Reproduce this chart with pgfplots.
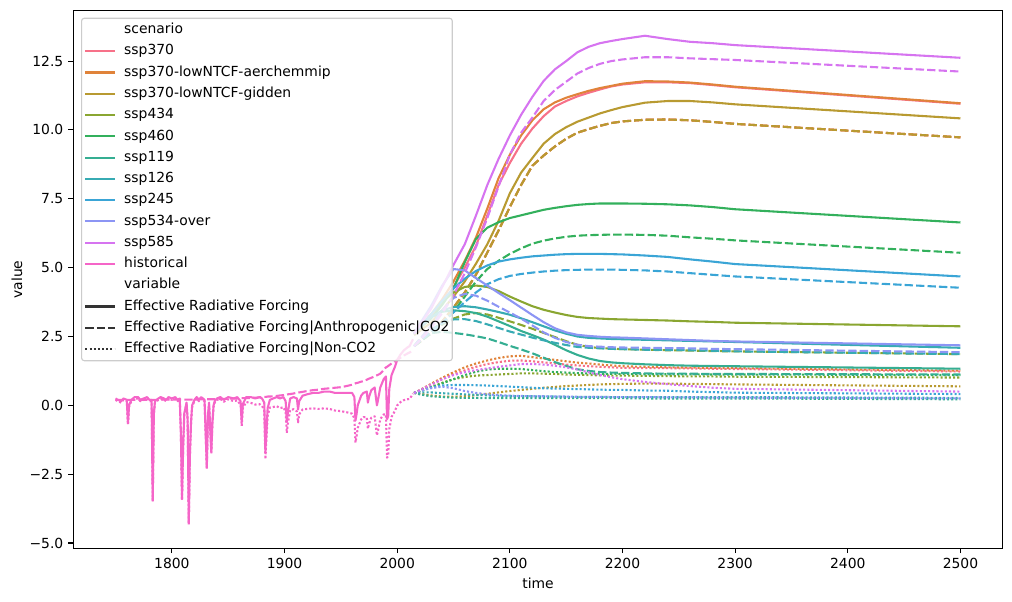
\documentclass[border=0pt]{standalone}
\usepackage{fontspec}
\setmainfont{DejaVu Sans}
\usepackage{pgfplots}
\usepackage{pgfplotstable}
\pgfplotsset{compat=1.18}

\definecolor{cA}{HTML}{F77189}
\definecolor{cB}{HTML}{E0833A}
\definecolor{cC}{HTML}{B89A31}
\definecolor{cD}{HTML}{8AA631}
\definecolor{cE}{HTML}{33B05C}
\definecolor{cF}{HTML}{35AE92}
\definecolor{cG}{HTML}{37ABB3}
\definecolor{cH}{HTML}{3AA5D6}
\definecolor{cI}{HTML}{8C95F4}
\definecolor{cJ}{HTML}{D674F0}
\definecolor{cK}{HTML}{F565C8}
\definecolor{legdark}{HTML}{333333}
\definecolor{leggray}{HTML}{CCCCCC}

\pgfplotsset{
  sol/.style={line width=1.5bp, solid, line join=round},
  das/.style={line width=1.5bp, dash pattern=on 6bp off 2.25bp, line join=round},
  dot/.style={line width=1.5bp, dash pattern=on 1.5bp off 1.5bp, line join=round},
  myleg/.style={legend image code/.code={\draw[##1] (0bp,0bp) -- (21bp,0bp);}},
}

% historical
\pgfplotstableread{
year erf co2 non
1750 0.25 0.20 0.20
1752 0.20 0.20 0.15
1755 0.15 0.20 0.10
1757 0.25 0.20 0.20
1760 0.20 0.20 0.15
1761 -0.65 0.20 -0.70
1762 0.00 0.20 -0.05
1764 0.20 0.20 0.15
1767 0.30 0.20 0.25
1770 0.30 0.20 0.25
1772 0.20 0.20 0.15
1775 0.25 0.20 0.20
1778 0.30 0.20 0.25
1780 0.20 0.20 0.15
1782 0.20 0.20 0.15
1783 -3.45 0.20 -3.50
1784 -0.30 0.20 -0.35
1785 0.15 0.20 0.10
1788 0.25 0.20 0.20
1790 0.30 0.20 0.25
1793 0.25 0.21 0.20
1795 0.20 0.21 0.15
1797 0.30 0.21 0.25
1800 0.25 0.21 0.20
1803 0.30 0.21 0.25
1805 0.20 0.21 0.15
1807 0.25 0.21 0.20
1808 -1.00 0.21 -1.05
1809 -3.40 0.21 -3.45
1810 -1.50 0.21 -1.55
1811 -0.30 0.21 -0.35
1813 0.10 0.21 0.05
1814 -0.50 0.21 -0.55
1815 -4.28 0.21 -4.33
1816 -1.80 0.21 -1.85
1817 -0.60 0.21 -0.65
1818 0.00 0.21 -0.05
1820 0.20 0.21 0.15
1822 0.30 0.22 0.25
1824 0.20 0.22 0.15
1826 0.30 0.22 0.25
1829 0.20 0.22 0.15
1831 -2.25 0.22 -2.30
1832 -0.40 0.22 -0.45
1833 0.10 0.22 0.05
1835 -1.70 0.22 -1.75
1836 -0.60 0.22 -0.65
1837 0.00 0.22 -0.05
1838 0.15 0.22 0.10
1840 0.25 0.23 0.20
1843 0.30 0.23 0.24
1846 0.20 0.23 0.13
1850 0.30 0.24 0.22
1855 0.25 0.25 0.15
1858 0.30 0.25 0.18
1861 0.15 0.26 0.02
1862 -0.60 0.26 -0.75
1863 0.05 0.26 -0.10
1866 0.30 0.26 0.12
1870 0.30 0.27 0.09
1874 0.25 0.28 0.03
1878 0.30 0.29 0.04
1880 0.25 0.30 -0.02
1882 0.10 0.31 -0.17
1883 -1.70 0.31 -1.95
1884 -0.90 0.31 -1.17
1885 -0.10 0.32 -0.38
1887 0.20 0.32 -0.08
1890 0.25 0.33 -0.06
1893 0.30 0.34 -0.03
1896 0.25 0.36 -0.10
1899 0.30 0.37 -0.07
1901 0.15 0.39 -0.24
1902 -0.60 0.39 -1.00
1903 -0.25 0.40 -0.65
1905 0.25 0.41 -0.17
1908 0.30 0.43 -0.14
1911 0.25 0.46 -0.22
1912 -0.15 0.46 -0.62
1913 0.15 0.47 -0.33
1916 0.35 0.49 -0.15
1920 0.40 0.52 -0.13
1925 0.45 0.55 -0.11
1930 0.45 0.57 -0.13
1935 0.50 0.60 -0.11
1940 0.50 0.62 -0.13
1945 0.45 0.64 -0.19
1950 0.45 0.66 -0.21
1955 0.45 0.70 -0.25
1960 0.45 0.75 -0.30
1962 0.30 0.78 -0.48
1963 -0.55 0.80 -1.35
1964 -0.30 0.81 -1.11
1965 0.00 0.82 -0.82
1968 0.35 0.86 -0.51
1970 0.45 0.88 -0.43
1973 0.50 0.93 -0.43
1974 0.10 0.95 -0.85
1975 0.30 0.97 -0.67
1977 0.55 1.00 -0.45
1980 0.65 1.05 -0.40
1982 0.00 1.09 -1.09
1983 0.20 1.11 -0.91
1985 0.65 1.15 -0.50
1988 0.95 1.28 -0.33
1990 1.05 1.38 -0.33
1991 -0.50 1.40 -1.90
1992 -0.40 1.43 -1.83
1993 0.60 1.46 -0.86
1995 1.10 1.52 -0.42
1998 1.40 1.60 -0.20
2000 1.65 1.65 0.00
2003 1.85 1.73 0.12
2006 2.00 1.81 0.19
2009 2.10 1.88 0.22
2011 2.15 1.92 0.23
2014 2.40 1.98 0.42
}\tHist

% ssp370
\pgfplotstableread{
year erf co2 non
2015 2.60 2.15 0.45
2020 2.80 2.30 0.55
2030 3.20 2.65 0.75
2040 3.70 3.05 0.95
2050 4.30 3.55 1.12
2060 5.00 4.10 1.27
2070 5.80 4.75 1.40
2080 6.90 5.55 1.50
2090 8.00 6.35 1.57
2100 8.80 7.20 1.62
2110 9.50 8.00 1.63
2120 10.05 8.70 1.60
2130 10.50 9.07 1.56
2140 10.85 9.40 1.52
2150 11.05 9.68 1.48
2160 11.22 9.90 1.45
2170 11.35 10.03 1.42
2180 11.47 10.15 1.40
2190 11.58 10.25 1.38
2200 11.65 10.31 1.36
2220 11.73 10.37 1.35
2240 11.73 10.38 1.35
2260 11.70 10.35 1.34
2280 11.63 10.29 1.33
2300 11.55 10.22 1.32
2500 10.95 9.73 1.23
}\tA

% ssp370-lowNTCF-aerchemmip
\pgfplotstableread{
year erf co2 non
2015 2.60 2.15 0.45
2020 2.85 2.30 0.55
2030 3.30 2.65 0.78
2040 3.85 3.05 1.00
2050 4.50 3.55 1.20
2060 5.25 4.10 1.38
2070 6.10 4.75 1.52
2080 7.15 5.55 1.63
2090 8.25 6.35 1.72
2100 9.10 7.20 1.78
2110 9.80 8.00 1.80
2120 10.35 8.70 1.75
2130 10.75 9.07 1.70
2140 11.00 9.40 1.65
2150 11.17 9.68 1.60
2160 11.30 9.90 1.55
2170 11.42 10.03 1.52
2180 11.52 10.15 1.48
2190 11.60 10.25 1.45
2200 11.68 10.31 1.42
2220 11.77 10.37 1.40
2240 11.76 10.38 1.38
2260 11.72 10.35 1.37
2280 11.65 10.29 1.36
2300 11.57 10.22 1.35
2500 10.97 9.73 1.26
}\tB

% ssp370-lowNTCF-gidden
\pgfplotstableread{
year erf co2 non
2015 2.55 2.15 0.45
2020 2.70 2.30 0.42
2030 3.00 2.65 0.36
2040 3.45 3.05 0.32
2050 3.95 3.55 0.31
2060 4.50 4.10 0.33
2070 5.15 4.75 0.37
2080 5.85 5.55 0.42
2090 6.70 6.35 0.47
2100 7.70 7.20 0.52
2110 8.45 8.00 0.56
2120 8.98 8.70 0.60
2130 9.50 9.07 0.64
2140 9.85 9.40 0.67
2150 10.10 9.68 0.70
2160 10.30 9.90 0.72
2170 10.45 10.03 0.74
2180 10.60 10.15 0.76
2190 10.72 10.25 0.77
2200 10.83 10.31 0.78
2220 10.99 10.37 0.79
2240 11.05 10.38 0.79
2260 11.05 10.35 0.78
2280 11.00 10.29 0.77
2300 10.93 10.22 0.76
2500 10.42 9.73 0.69
}\tC

% ssp434
\pgfplotstableread{
year erf co2 non
2015 2.60 2.15 0.45
2020 2.85 2.35 0.52
2030 3.30 2.65 0.66
2040 3.75 2.93 0.82
2050 4.10 3.15 0.95
2060 4.30 3.30 1.03
2070 4.35 3.35 1.08
2080 4.30 3.30 1.10
2090 4.15 3.18 1.12
2100 3.95 3.05 1.14
2110 3.77 2.92 1.16
2120 3.60 2.78 1.16
2130 3.47 2.63 1.15
2140 3.37 2.48 1.14
2150 3.28 2.33 1.12
2160 3.21 2.20 1.11
2170 3.17 2.12 1.10
2180 3.15 2.08 1.09
2190 3.13 2.06 1.08
2200 3.12 2.04 1.08
2220 3.10 2.02 1.07
2240 3.08 2.00 1.06
2260 3.05 1.99 1.05
2280 3.03 1.97 1.05
2300 3.00 1.96 1.04
2500 2.87 1.86 1.01
}\tD

% ssp460
\pgfplotstableread{
year erf co2 non
2015 2.60 2.15 0.45
2020 2.80 2.30 0.52
2030 3.15 2.60 0.65
2040 3.65 2.95 0.80
2050 4.25 3.40 0.95
2060 5.20 3.95 1.10
2070 6.05 4.50 1.22
2080 6.45 4.95 1.30
2090 6.65 5.25 1.33
2100 6.80 5.50 1.33
2110 6.90 5.70 1.32
2120 7.00 5.87 1.28
2130 7.10 5.98 1.24
2140 7.17 6.06 1.21
2150 7.23 6.12 1.19
2160 7.28 6.16 1.17
2170 7.31 6.18 1.16
2180 7.33 6.19 1.15
2190 7.33 6.20 1.14
2200 7.33 6.20 1.14
2220 7.32 6.19 1.13
2240 7.30 6.16 1.13
2260 7.26 6.10 1.13
2280 7.20 6.05 1.12
2300 7.12 5.99 1.12
2500 6.64 5.54 1.10
}\tE

% ssp119
\pgfplotstableread{
year erf co2 non
2015 2.60 2.15 0.45
2020 2.85 2.40 0.40
2030 3.20 2.62 0.33
2040 3.40 2.67 0.30
2050 3.45 2.63 0.28
2060 3.42 2.58 0.27
2070 3.35 2.51 0.27
2080 3.22 2.43 0.26
2090 3.05 2.30 0.26
2100 2.88 2.16 0.26
2110 2.70 2.03 0.26
2120 2.55 1.89 0.26
2130 2.39 1.73 0.26
2140 2.20 1.57 0.26
2150 2.00 1.43 0.26
2160 1.83 1.31 0.26
2170 1.70 1.25 0.26
2180 1.61 1.21 0.26
2190 1.56 1.19 0.26
2200 1.53 1.18 0.26
2220 1.49 1.16 0.25
2240 1.46 1.15 0.25
2260 1.44 1.15 0.25
2280 1.43 1.14 0.25
2300 1.42 1.14 0.25
2500 1.33 1.12 0.22
}\tF

% ssp126
\pgfplotstableread{
year erf co2 non
2015 2.60 2.15 0.45
2020 2.85 2.40 0.47
2030 3.20 2.75 0.47
2040 3.45 2.98 0.44
2050 3.57 3.12 0.42
2060 3.60 3.13 0.40
2070 3.56 3.06 0.38
2080 3.48 2.94 0.36
2090 3.39 2.81 0.35
2100 3.29 2.68 0.34
2110 3.16 2.57 0.33
2120 3.02 2.46 0.33
2130 2.87 2.36 0.32
2140 2.72 2.27 0.32
2150 2.60 2.19 0.31
2160 2.50 2.12 0.31
2170 2.45 2.09 0.31
2180 2.43 2.07 0.31
2190 2.41 2.05 0.30
2200 2.40 2.04 0.30
2220 2.38 2.02 0.30
2240 2.36 2.01 0.30
2260 2.34 2.00 0.30
2280 2.32 1.98 0.30
2300 2.30 1.96 0.30
2500 2.09 1.86 0.27
}\tG

% ssp245
\pgfplotstableread{
year erf co2 non
2015 2.60 2.15 0.45
2020 2.85 2.33 0.52
2030 3.30 2.65 0.65
2040 3.80 3.00 0.72
2050 4.25 3.38 0.74
2060 4.60 3.75 0.74
2070 4.88 4.10 0.73
2080 5.08 4.40 0.72
2090 5.22 4.58 0.70
2100 5.30 4.70 0.68
2110 5.36 4.77 0.66
2120 5.41 4.82 0.64
2130 5.44 4.86 0.62
2140 5.47 4.89 0.61
2150 5.49 4.91 0.60
2160 5.50 4.92 0.59
2170 5.50 4.93 0.58
2180 5.50 4.93 0.57
2190 5.49 4.93 0.56
2200 5.48 4.92 0.56
2220 5.44 4.90 0.54
2240 5.39 4.86 0.53
2260 5.30 4.80 0.50
2280 5.22 4.74 0.48
2300 5.13 4.68 0.46
2500 4.68 4.27 0.41
}\tH

% ssp534-over
\pgfplotstableread{
year erf co2 non
2015 2.60 2.15 0.45
2020 2.95 2.40 0.52
2030 3.60 2.90 0.62
2040 4.35 3.45 0.68
2050 4.95 3.90 0.62
2060 4.90 4.05 0.52
2070 4.62 3.98 0.45
2080 4.35 3.80 0.40
2090 4.08 3.58 0.37
2100 3.82 3.37 0.35
2110 3.55 3.15 0.34
2120 3.28 2.90 0.33
2130 3.02 2.65 0.33
2140 2.80 2.45 0.32
2150 2.65 2.30 0.32
2160 2.56 2.20 0.31
2170 2.52 2.15 0.31
2180 2.49 2.13 0.31
2190 2.47 2.11 0.30
2200 2.46 2.10 0.30
2220 2.43 2.09 0.30
2240 2.40 2.08 0.29
2260 2.37 2.07 0.29
2280 2.34 2.05 0.28
2300 2.32 2.04 0.28
2500 2.18 1.93 0.25
}\tI

% ssp585
\pgfplotstableread{
year erf co2 non
2015 2.60 2.15 0.45
2020 2.90 2.35 0.55
2030 3.50 2.80 0.75
2040 4.30 3.35 0.95
2050 5.10 4.00 1.10
2060 5.85 4.80 1.20
2070 6.90 5.75 1.28
2080 8.00 6.80 1.34
2090 8.95 7.95 1.40
2100 9.80 9.10 1.45
2110 10.55 9.90 1.50
2120 11.20 10.45 1.50
2130 11.78 11.05 1.48
2140 12.20 11.45 1.44
2150 12.50 11.75 1.38
2160 12.82 12.05 1.30
2170 13.02 12.25 1.20
2180 13.15 12.40 1.10
2190 13.23 12.50 1.02
2200 13.30 12.56 0.95
2220 13.42 12.64 0.85
2240 13.30 12.64 0.77
2260 13.20 12.60 0.70
2280 13.15 12.57 0.64
2300 13.08 12.54 0.60
2500 12.62 12.12 0.50
}\tJ

\newcommand{\trio}[2]{%
  \addplot[sol, color=#1, forget plot] table[x=year, y=erf] {#2};
  \addplot[das, color=#1, forget plot] table[x=year, y=co2] {#2};
  \addplot[dot, color=#1, forget plot] table[x=year, y=non] {#2};
}

\begin{document}
\begin{tikzpicture}[font=\fontsize{10bp}{12bp}\selectfont]
\path[use as bounding box] (-52.78bp,-38.66bp) rectangle (675.87bp,394.77bp);
\begin{axis}[
  at={(0,0)}, anchor=south west,
  scale only axis, width=669.17bp, height=387.07bp,
  xmin=1712.5, xmax=2537.5, ymin=-5.19, ymax=14.33,
  xtick={1800,1900,2000,2100,2200,2300,2400,2500},
  xticklabels={1800,1900,2000,2100,2200,2300,2400,2500},
  ytick={-5,-2.5,0,2.5,5,7.5,10,12.5},
  yticklabels={−5.0,−2.5,0.0,2.5,5.0,7.5,10.0,12.5},
  tick align=outside, tick pos=left,
  major tick length=3.5bp,
  every tick/.style={black, line width=0.8bp},
  axis line style={line width=0.8bp, black},
  xticklabel style={inner sep=0pt, yshift=-3.5bp},
  yticklabel style={inner sep=0pt, xshift=-3.5bp},
  xlabel={time}, ylabel={value},
  xlabel style={at={(axis description cs:0.5,-0.0645)}, anchor=center, inner sep=0pt},
  ylabel style={at={(axis description cs:-0.0606,0.5)}, anchor=center, inner sep=0pt},
  legend cell align=left,
  myleg,
  legend style={at={(0.0083,0.987)}, anchor=north west,
    draw=leggray, line width=0.8bp, fill=white, fill opacity=0.8, draw opacity=1, text opacity=1,
    rounded corners=2bp, inner xsep=2bp, inner ysep=3.5bp,
    row sep=5.52bp, column sep=6.2bp,
    nodes={inner sep=0pt, text height=7.6bp, text depth=2.2bp}},
]
\trio{cA}{\tA}
\trio{cB}{\tB}
\trio{cC}{\tC}
\trio{cD}{\tD}
\trio{cE}{\tE}
\trio{cF}{\tF}
\trio{cG}{\tG}
\trio{cH}{\tH}
\trio{cI}{\tI}
\trio{cJ}{\tJ}
\trio{cK}{\tHist}

\addlegendimage{empty legend}\addlegendentry{scenario}
\addlegendimage{sol, color=cA}\addlegendentry{ssp370}
\addlegendimage{sol, color=cB}\addlegendentry{ssp370-lowNTCF-aerchemmip}
\addlegendimage{sol, color=cC}\addlegendentry{ssp370-lowNTCF-gidden}
\addlegendimage{sol, color=cD}\addlegendentry{ssp434}
\addlegendimage{sol, color=cE}\addlegendentry{ssp460}
\addlegendimage{sol, color=cF}\addlegendentry{ssp119}
\addlegendimage{sol, color=cG}\addlegendentry{ssp126}
\addlegendimage{sol, color=cH}\addlegendentry{ssp245}
\addlegendimage{sol, color=cI}\addlegendentry{ssp534-over}
\addlegendimage{sol, color=cJ}\addlegendentry{ssp585}
\addlegendimage{sol, color=cK}\addlegendentry{historical}
\addlegendimage{empty legend}\addlegendentry{variable}
\addlegendimage{sol, color=legdark}\addlegendentry{Effective Radiative Forcing}
\addlegendimage{das, color=legdark}\addlegendentry{Effective Radiative Forcing|Anthropogenic|CO2}
\addlegendimage{dot, color=legdark}\addlegendentry{Effective Radiative Forcing|Non-CO2}
\end{axis}
\end{tikzpicture}
\end{document}
